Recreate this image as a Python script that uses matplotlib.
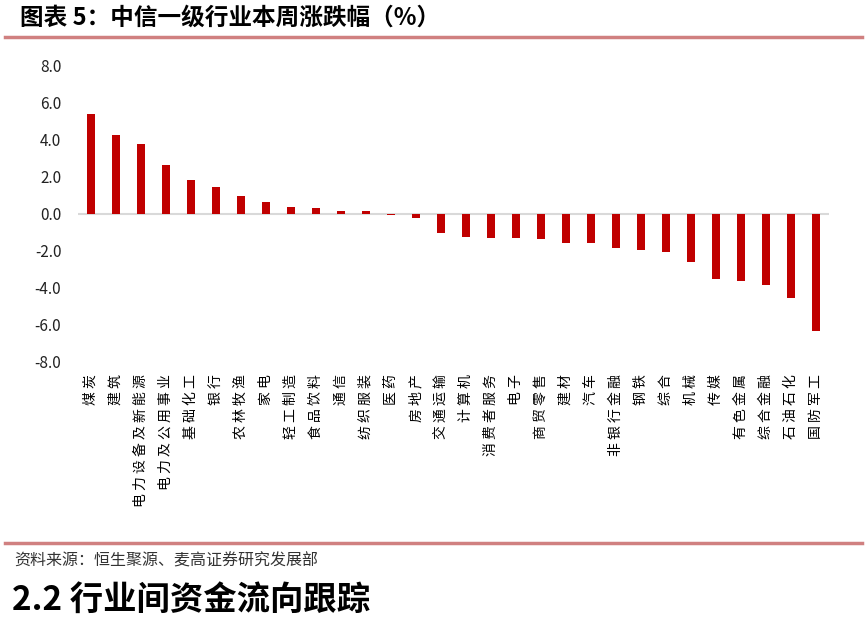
import matplotlib
matplotlib.use("Agg")
import matplotlib.pyplot as plt
import numpy as np

plt.rcParams['font.family'] = ['Noto Sans CJK SC', 'DejaVu Sans']

## industries and weekly change (%)
industries = ["煤炭", "建筑", "电力设备及新能源", "电力及公用事业", "基础化工", "银行",
              "农林牧渔", "家电", "轻工制造", "食品饮料", "通信", "纺织服装", "医药",
              "房地产", "交通运输", "计算机", "消费者服务", "电子", "商贸零售", "建材",
              "汽车", "非银行金融", "钢铁", "综合", "机械", "传媒", "有色金属",
              "综合金融", "石油石化", "国防军工"]
changes = [5.38, 4.25, 3.76, 2.62, 1.83, 1.43, 0.94, 0.62, 0.36, 0.29, 0.16, 0.16,
           -0.08, -0.24, -1.06, -1.25, -1.30, -1.30, -1.37, -1.60, -1.60, -1.84,
           -1.95, -2.07, -2.63, -3.52, -3.65, -3.85, -4.55, -6.34]
yticks = [8.0, 6.0, 4.0, 2.0, 0.0, -2.0, -4.0, -6.0, -8.0]

title = "图表 5：中信一级行业本周涨跌幅（%）"
source = "资料来源：恒生聚源、麦高证券研究发展部"
section = "2.2 行业间资金流向跟踪"

fig = plt.figure(figsize=(8.67, 6.19), dpi=100)
ax = fig.add_axes([0.090, 0.4157, 0.866, 0.4777])

x = np.arange(len(industries))
ax.bar(x, changes, width=0.32, color="#C00000", zorder=3)
ax.axhline(0, color="#D9D9D9", lw=1.5, zorder=2)

ax.set_xlim(-0.5, len(industries) - 0.5)
ax.set_ylim(-8, 8)
ax.set_yticks(yticks)
ax.set_yticklabels([f"{v:.1f}" for v in yticks], fontsize=11, color="#222222")
ax.tick_params(axis="y", length=0, pad=12)

## labels turned 90 degrees, reading bottom to top, a bit spaced out
ax.set_xticks(x)
ax.set_xticklabels([" ".join(s) for s in industries], fontsize=10, rotation=90,
                   ha="center", va="top")
ax.tick_params(axis="x", length=0, pad=9)

for sp in ax.spines.values():
    sp.set_visible(False)

## header / footer decoration
fig.text(20 / 867, 1 - 18 / 619, title, fontsize=17, fontweight="bold", va="center", ha="left")
fig.add_artist(plt.Line2D([5 / 867, 862 / 867], [1 - 37 / 619] * 2, color="#D08080", lw=2.5))
fig.add_artist(plt.Line2D([5 / 867, 862 / 867], [1 - 543 / 619] * 2, color="#D08080", lw=2.5))
fig.text(14 / 867, 1 - 561 / 619, source, fontsize=11.5, va="center", ha="left", color="#333333")
fig.text(12 / 867, 1 - 600 / 619, section, fontsize=24, fontweight="bold", va="center", ha="left")

fig.savefig("out.png", dpi=100)
